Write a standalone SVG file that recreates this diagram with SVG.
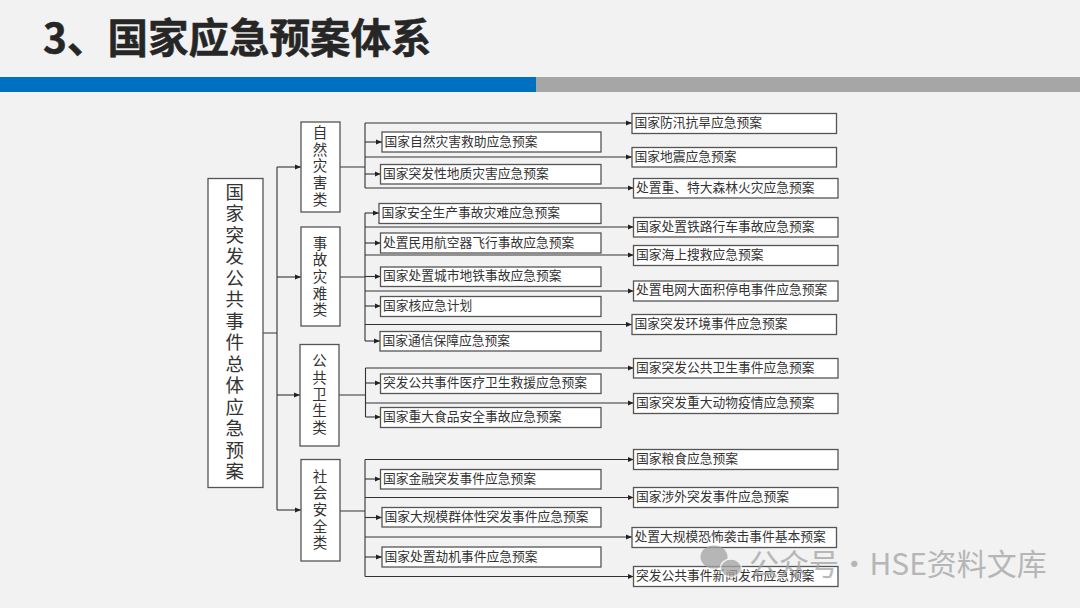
<svg xmlns="http://www.w3.org/2000/svg" width="1080" height="608" viewBox="0 0 1080 608">
<style>
text{font-family:"Noto Sans CJK SC","Liberation Sans",sans-serif;fill:#333}
.box{fill:#fff;stroke:#555;stroke-width:1.3}
.t{font-size:12.75px}
.v{font-size:14.5px;text-anchor:middle}
.r{font-size:18.5px;text-anchor:middle}
.c{fill:none;stroke:#333;stroke-width:1.1}
.a{fill:none;stroke:#333;stroke-width:1.1;marker-end:url(#ah)}
</style>
<defs>
<marker id="ah" markerUnits="userSpaceOnUse" markerWidth="7" markerHeight="6" refX="6" refY="3" orient="auto"><path d="M0 0.4L6 3L0 5.6Z" fill="#222"/></marker>
</defs>
<rect width="1080" height="608" fill="#f2f2f2"/>
<rect y="77" width="536" height="15" fill="#0070c0"/>
<rect x="536" y="77" width="544" height="15" fill="#a6a6a6"/>
<text x="43" y="53" font-size="40.500" font-weight="700" style="fill:#262626;stroke:#262626;stroke-width:.5">3、国家应急预案体系</text>

<g id="connectors">
<path class="c" d="M263 333H277M277 167V510M340 167H365M365 123V188M340 277H365M365 213V341M339 395H365.500M365.500 368V417M340 511H365M365 459.500V576.500"/>
<path class="a" d="M277 167H301"/><path class="a" d="M277 277H301"/><path class="a" d="M277 395H300"/><path class="a" d="M277 510H301"/>
<path class="a" d="M365 123H632"/><path class="a" d="M365 142H382"/><path class="a" d="M365 157H632"/><path class="a" d="M365 174H380.500"/><path class="a" d="M365 188H633.500"/>
<path class="a" d="M365 213H379"/><path class="a" d="M365 227H633.500"/><path class="a" d="M365 243H380.500"/><path class="a" d="M365 255H633.500"/><path class="a" d="M365 276.500H380.500"/><path class="a" d="M365 291H633.500"/><path class="a" d="M365 306H380.500"/><path class="a" d="M365 324.500H632"/><path class="a" d="M365 341H380"/>
<path class="a" d="M365.500 368H633.500"/><path class="a" d="M365.500 383H380.500"/><path class="a" d="M365.500 403H633.500"/><path class="a" d="M365.500 417H380.500"/>
<path class="a" d="M365 459.500H633.500"/><path class="a" d="M365 479H380.500"/><path class="a" d="M365 497.500H633.500"/><path class="a" d="M365 517.500H382"/><path class="a" d="M365 537H632"/><path class="a" d="M365 557H382"/><path class="a" d="M365 576.500H633.500"/>
</g>

<g id="root"><rect class="box" x="208" y="178.500" width="55" height="309"/>
<text class="r" y="198.500"><tspan x="234.700">国</tspan><tspan x="234.700" dy="21.500">家</tspan><tspan x="234.700" dy="21.500">突</tspan><tspan x="234.700" dy="21.500">发</tspan><tspan x="234.700" dy="21.500">公</tspan><tspan x="234.700" dy="21.500">共</tspan><tspan x="234.700" dy="21.500">事</tspan><tspan x="234.700" dy="21.500">件</tspan><tspan x="234.700" dy="21.500">总</tspan><tspan x="234.700" dy="21.500">体</tspan><tspan x="234.700" dy="21.500">应</tspan><tspan x="234.700" dy="21.500">急</tspan><tspan x="234.700" dy="21.500">预</tspan><tspan x="234.700" dy="21.500">案</tspan></text></g>

<g id="cat1"><rect class="box" x="301" y="122" width="39" height="90"/>
<text class="v" y="138"><tspan x="320">自</tspan><tspan x="320" dy="16.700">然</tspan><tspan x="320" dy="16.700">灾</tspan><tspan x="320" dy="16.700">害</tspan><tspan x="320" dy="16.700">类</tspan></text></g>
<g id="cat2"><rect class="box" x="301" y="227" width="39" height="99"/>
<text class="v" y="248.500"><tspan x="320">事</tspan><tspan x="320" dy="16.700">故</tspan><tspan x="320" dy="16.700">灾</tspan><tspan x="320" dy="16.700">难</tspan><tspan x="320" dy="16.700">类</tspan></text></g>
<g id="cat3"><rect class="box" x="300" y="344.500" width="39" height="101.500"/>
<text class="v" y="366.200"><tspan x="319.500">公</tspan><tspan x="319.500" dy="16.700">共</tspan><tspan x="319.500" dy="16.700">卫</tspan><tspan x="319.500" dy="16.700">生</tspan><tspan x="319.500" dy="16.700">类</tspan></text></g>
<g id="cat4"><rect class="box" x="301" y="459.500" width="39" height="101.500"/>
<text class="v" y="481.500"><tspan x="320">社</tspan><tspan x="320" dy="16.700">会</tspan><tspan x="320" dy="16.700">安</tspan><tspan x="320" dy="16.700">全</tspan><tspan x="320" dy="16.700">类</tspan></text></g>

<g id="l1"><rect class="box" x="382" y="132" width="219" height="20"/><text class="t" x="384.500" y="145.500">国家自然灾害救助应急预案</text></g>
<g id="l2"><rect class="box" x="380.500" y="164.500" width="220.500" height="19.500"/><text class="t" x="383" y="177.500">国家突发性地质灾害应急预案</text></g>
<g id="l3"><rect class="box" x="379" y="203.500" width="222" height="20"/><text class="t" x="381.500" y="216.500">国家安全生产事故灾难应急预案</text></g>
<g id="l4"><rect class="box" x="380.500" y="233" width="220.500" height="20"/><text class="t" x="383" y="246.500">处置民用航空器飞行事故应急预案</text></g>
<g id="l5"><rect class="box" x="380.500" y="267" width="220.500" height="19.500"/><text class="t" x="383" y="280">国家处置城市地铁事故应急预案</text></g>
<g id="l6"><rect class="box" x="380.500" y="296.500" width="220.500" height="20"/><text class="t" x="383" y="309.500">国家核应急计划</text></g>
<g id="l7"><rect class="box" x="380" y="331.500" width="221" height="19.500"/><text class="t" x="382.500" y="344.500">国家通信保障应急预案</text></g>
<g id="l8"><rect class="box" x="380.500" y="374" width="220.500" height="19.500"/><text class="t" x="383" y="386.500">突发公共事件医疗卫生救援应急预案</text></g>
<g id="l9"><rect class="box" x="380.500" y="407.500" width="220.500" height="20"/><text class="t" x="383" y="420.500">国家重大食品安全事故应急预案</text></g>
<g id="l10"><rect class="box" x="380.500" y="469.500" width="220.500" height="19.500"/><text class="t" x="383" y="482.500">国家金融突发事件应急预案</text></g>
<g id="l11"><rect class="box" x="382" y="507.500" width="219" height="19.500"/><text class="t" x="384.500" y="520.500">国家大规模群体性突发事件应急预案</text></g>
<g id="l12"><rect class="box" x="382" y="547" width="219" height="20"/><text class="t" x="384.500" y="560.500">国家处置劫机事件应急预案</text></g>

<g id="r1"><rect class="box" x="632" y="113.500" width="204.500" height="20"/><text class="t" x="634.500" y="126.500">国家防汛抗旱应急预案</text></g>
<g id="r2"><rect class="box" x="632" y="147.500" width="204.500" height="19.500"/><text class="t" x="634.500" y="160.500">国家地震应急预案</text></g>
<g id="r3"><rect class="box" x="633.500" y="178.500" width="204.500" height="19.500"/><text class="t" x="636" y="191.500">处置重、特大森林火灾应急预案</text></g>
<g id="r4"><rect class="box" x="633.500" y="217.500" width="204.500" height="19.500"/><text class="t" x="636" y="230.500">国家处置铁路行车事故应急预案</text></g>
<g id="r5"><rect class="box" x="633.500" y="245.500" width="204.500" height="20"/><text class="t" x="636" y="258.500">国家海上搜救应急预案</text></g>
<g id="r6"><rect class="box" x="633.500" y="281" width="204.500" height="20"/><text class="t" x="636" y="294">处置电网大面积停电事件应急预案</text></g>
<g id="r7"><rect class="box" x="632" y="314.500" width="204.500" height="20"/><text class="t" x="634.500" y="327.500">国家突发环境事件应急预案</text></g>
<g id="r8"><rect class="box" x="633.500" y="358.500" width="204.500" height="19.500"/><text class="t" x="636" y="371.500">国家突发公共卫生事件应急预案</text></g>
<g id="r9"><rect class="box" x="633.500" y="393.500" width="204.500" height="20"/><text class="t" x="636" y="406.500">国家突发重大动物疫情应急预案</text></g>
<g id="r10"><rect class="box" x="633.500" y="449.500" width="204.500" height="20"/><text class="t" x="636" y="462.500">国家粮食应急预案</text></g>
<g id="r11"><rect class="box" x="633.500" y="487.500" width="204.500" height="20"/><text class="t" x="636" y="500.500">国家涉外突发事件应急预案</text></g>
<g id="r12"><rect class="box" x="632" y="527.500" width="204.500" height="20"/><text class="t" x="634.500" y="540.500">处置大规模恐怖袭击事件基本预案</text></g>
<g id="r13"><rect class="box" x="633.500" y="566.500" width="204.500" height="20"/><text class="t" x="636" y="579.500">突发公共事件新闻发布应急预案</text></g>

<g id="watermark" opacity="0.75">
<ellipse cx="714" cy="557" rx="13.500" ry="11.500" fill="#a3a3a3"/>
<ellipse cx="731" cy="568" rx="10.500" ry="9" fill="#a3a3a3" stroke="#f2f2f2" stroke-width="1.500"/>
<text x="749" y="575" font-size="30" word-spacing="-6.500" style="fill:#a3a3a3">公众号 · HSE资料文库</text>
</g>
</svg>
